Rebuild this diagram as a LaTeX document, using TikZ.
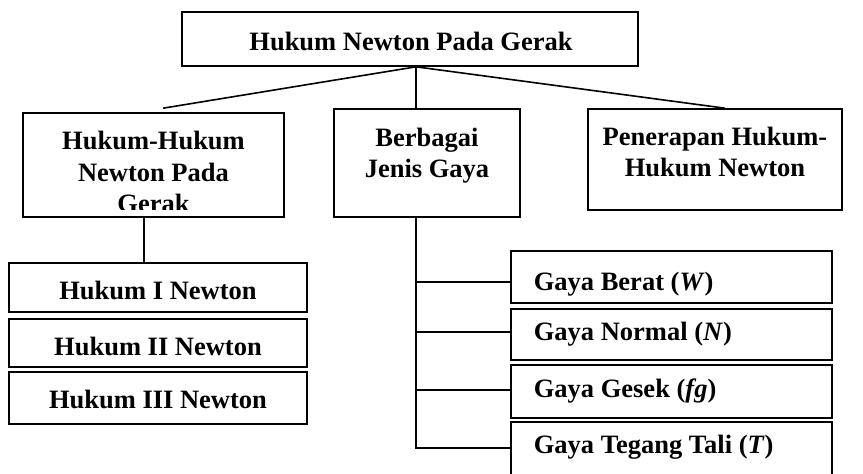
\documentclass[tikz,border=0pt]{standalone}
\usepackage{fontspec}
\setmainfont{Liberation Serif}
\usetikzlibrary{fit,calc}
\begin{document}
\begin{tikzpicture}[x=1pt,y=-1pt,
  line width=1.6pt,
  box/.style={draw=black, inner sep=0pt, line width=1.6pt},
  lbl/.style={inner sep=0pt, font=\fontsize{26.5}{31.5}\selectfont\bfseries},
  mlbl/.style={lbl, align=center, anchor=north},
  link/.style={draw=black, line width=1.6pt}]
\useasboundingbox (0,0) rectangle (863,474);
\clip (0,0) rectangle (863,474);

% boxes
\node[box, fit={(182,12) (638,66)}] (top) {};
\node[box, fit={(23,113) (284,217)}] (hh) {};
\node[box, fit={(334,109) (520,217)}] (bj) {};
\node[box, fit={(588,109) (842,210)}] (pn) {};
\node[box, fit={(9,263) (307,312)}] (h1) {};
\node[box, fit={(9,319) (307,367)}] (h2) {};
\node[box, fit={(9,372) (307,424)}] (h3) {};
\node[box, fit={(511,251) (832,303)}] (g1) {};
\node[box, fit={(511,309) (832,360)}] (g2) {};
\node[box, fit={(511,365) (832,418)}] (g3) {};
\node[box, fit={(511,422) (832,478)}] (g4) {};

% labels
\node[lbl, anchor=base] (ttop) at (411,50) {Hukum Newton Pada Gerak};
\begin{scope}
  \clip (hh.north west) rectangle ($(hh.south east)+(0,-8)$);
  \node[mlbl] (thh) at (153.5,130.5) {Hukum-Hukum\\Newton Pada\\Gerak};
\end{scope}
\node[mlbl] (tbj) at (427,127) {Berbagai\\Jenis Gaya};
\node[mlbl] (tpn) at (715,126) {Penerapan Hukum-\\Hukum Newton};
\node[lbl, anchor=base] (th1) at (158,299) {Hukum I Newton};
\node[lbl, anchor=base] (th2) at (158,355) {Hukum II Newton};
\node[lbl, anchor=base] (th3) at (158,408) {Hukum III Newton};
\node[lbl, anchor=base west] (tg1) at (533,290) {Gaya Berat (\textit{W})};
\node[lbl, anchor=base west] (tg2) at (533,340) {Gaya Normal (\textit{N})};
\node[lbl, anchor=base west] (tg3) at (533,397) {Gaya Gesek (\textit{fg})};
\node[lbl, anchor=base west] (tg4) at (533,453) {Gaya Tegang Tali (\textit{T})};

% connectors from the title
\coordinate (j) at ([xshift=6pt]top.south);
\coordinate (hhtop) at ([xshift=9.5pt,yshift=4pt]hh.north);
\coordinate (pntop) at ([xshift=10pt]pn.north);
\draw[link] (j) -- (hhtop);
\draw[link] (j) -- (j |- bj.north);
\draw[link] (j) -- (pntop);

% stem to the three laws
\coordinate (hs) at ([xshift=-9.5pt]hh.south);
\draw[link] (hs) -- (hs |- h1.north);

% bracket to the kinds of force
\coordinate (bs) at ([xshift=-11pt]bj.south);
\coordinate (b1) at ($(bs |- g1.west)+(0,5)$);
\coordinate (b2) at ($(bs |- g2.west)+(0,-2.5)$);
\coordinate (b3) at ($(bs |- g3.west)+(0,-1.5)$);
\coordinate (b4) at (bs |- 0,448);
\draw[link] (bs) -- (b4) -- (b4 -| g4.west);
\draw[link] (b1) -- (b1 -| g1.west);
\draw[link] (b2) -- (b2 -| g2.west);
\draw[link] (b3) -- (b3 -| g3.west);
\end{tikzpicture}
\end{document}
